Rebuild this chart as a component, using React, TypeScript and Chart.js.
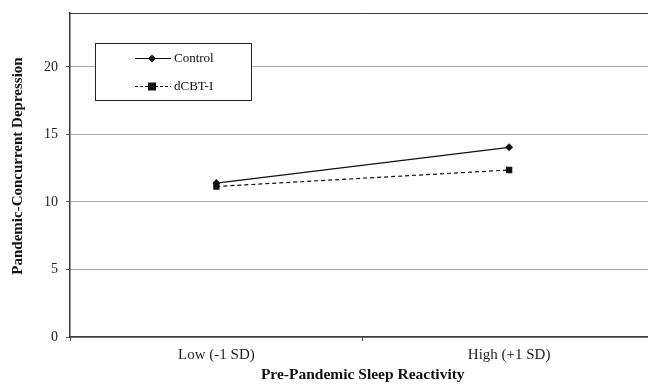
import React, { useEffect, useRef } from "react";
import { Chart, registerables } from "chart.js";

Chart.register(...registerables);

const categories = ["Low (-1 SD)", "High (+1 SD)"];
const controlValues = [11.4, 14.05];
const dcbtValues = [11.15, 12.37];
const seriesNames = ["Control", "dCBT-I"];
const yTicks = [0, 5, 10, 15, 20];
const yTitle = "Pandemic-Concurrent Depression";
const xTitle = "Pre-Pandemic Sleep Reactivity";

const FONT = "'Liberation Serif', 'Times New Roman', serif";

const framePlugin = {
  id: "frame",
  afterDraw(chart: any) {
    const ctx = chart.ctx;
    const a = chart.chartArea;
    ctx.save();
    ctx.strokeStyle = "#3a3a3a";
    ctx.lineWidth = 1;
    ctx.beginPath();
    ctx.moveTo(a.left, a.top + 0.5);
    ctx.lineTo(a.right, a.top + 0.5);
    ctx.stroke();

    // y-axis title
    ctx.save();
    ctx.translate(18, 166);
    ctx.rotate(-Math.PI / 2);
    ctx.fillStyle = "#111";
    ctx.font = "bold 15px " + FONT;
    ctx.textAlign = "center";
    ctx.textBaseline = "middle";
    ctx.fillText(yTitle, 0, 0);
    ctx.restore();

    const bx = 95.5, by = 43.5, bw = 156, bh = 57;
    ctx.fillStyle = "#ffffff";
    ctx.fillRect(bx, by, bw, bh);
    ctx.strokeStyle = "#222";
    ctx.lineWidth = 1;
    ctx.strokeRect(bx, by, bw, bh);

    const items = chart.data.datasets;
    const rows = [58, 86];
    items.forEach((ds: any, i: number) => {
      const y = rows[i] + 0.5;
      ctx.strokeStyle = "#111";
      ctx.lineWidth = 1.2;
      ctx.setLineDash(ds.borderDash ? [3, 2] : []);
      ctx.beginPath();
      ctx.moveTo(135, y);
      ctx.lineTo(171, y);
      ctx.stroke();
      ctx.setLineDash([]);
      ctx.fillStyle = "#111";
      if (ds.pointStyle === "rect") {
        ctx.fillRect(148, y - 4, 8, 8);
      } else {
        ctx.beginPath();
        ctx.moveTo(152, y - 4);
        ctx.lineTo(156, y);
        ctx.lineTo(152, y + 4);
        ctx.lineTo(148, y);
        ctx.closePath();
        ctx.fill();
      }
      ctx.fillStyle = "#111";
      ctx.font = "13px " + FONT;
      ctx.textBaseline = "middle";
      ctx.textAlign = "left";
      ctx.fillText(ds.label, 174, y);
    });
    ctx.restore();
  },
};

export default function App() {
  const ref = useRef<HTMLCanvasElement>(null);
  useEffect(() => {
    document.body.style.margin = "0";
    const chart = new Chart(ref.current!, {
      type: "line",
      data: {
        labels: categories,
        datasets: [
          {
            label: seriesNames[0],
            data: controlValues,
            borderColor: "#111",
            backgroundColor: "#111",
            borderWidth: 1.2,
            pointStyle: "rectRot",
            pointRadius: 4,
            pointBorderWidth: 0,
            fill: false,
            tension: 0,
          },
          {
            label: seriesNames[1],
            data: dcbtValues,
            borderColor: "#111",
            backgroundColor: "#111",
            borderWidth: 1.2,
            borderDash: [4, 3],
            pointStyle: "rect",
            pointRadius: 4.5,
            pointBorderWidth: 0,
            fill: false,
            tension: 0,
          },
        ],
      },
      options: {
        animation: false,
        responsive: false,
        maintainAspectRatio: false,
        layout: { padding: { top: 13, left: 0, right: 0, bottom: 0 } },
        plugins: {
          legend: { display: false },
          tooltip: { enabled: false },
        },
        scales: {
          x: {
            type: "category",
            offset: true,
            grid: {
              display: true,
              offset: true,
              drawOnChartArea: false,
              drawTicks: true,
              tickLength: 4,
              color: "#555",
            },
            border: { display: true, color: "#3a3a3a", width: 1.5 },
            ticks: {
              color: "#222",
              font: { family: FONT, size: 15 },
              padding: 5,
              maxRotation: 0,
            },
            title: {
              display: true,
              text: xTitle,
              color: "#111",
              font: { family: FONT, size: 15.5, weight: "bold" },
              padding: { top: 1, bottom: 0 },
            },
            afterFit(s: any) {
              s.height = 47;
              s.paddingLeft = 0;
              s.paddingRight = 0;
            },
          },
          y: {
            min: 0,
            max: 24,
            afterBuildTicks(s: any) {
              s.ticks = yTicks.map((v) => ({ value: v }));
            },
            grid: {
              color: "#a8a8a8",
              lineWidth: 1,
              tickLength: 4,
              tickColor: "#555",
            },
            border: { display: true, color: "#3a3a3a", width: 1.5 },
            ticks: {
              color: "#222",
              font: { family: FONT, size: 14 },
              padding: 8,
            },
            title: { display: false },
            afterFit(s: any) {
              s.width = 70;
              s.paddingTop = 0;
              s.paddingBottom = 0;
            },
          },
        },
      },
      plugins: [framePlugin],
    });
    return () => chart.destroy();
  }, []);
  return (
    <div style={{ position: "fixed", left: 0, top: 0, width: 648, height: 384, overflow: "hidden", background: "#fff" }}>
      <canvas ref={ref} width={660} height={384} style={{ width: 660, height: 384, display: "block" }} />
    </div>
  );
}
